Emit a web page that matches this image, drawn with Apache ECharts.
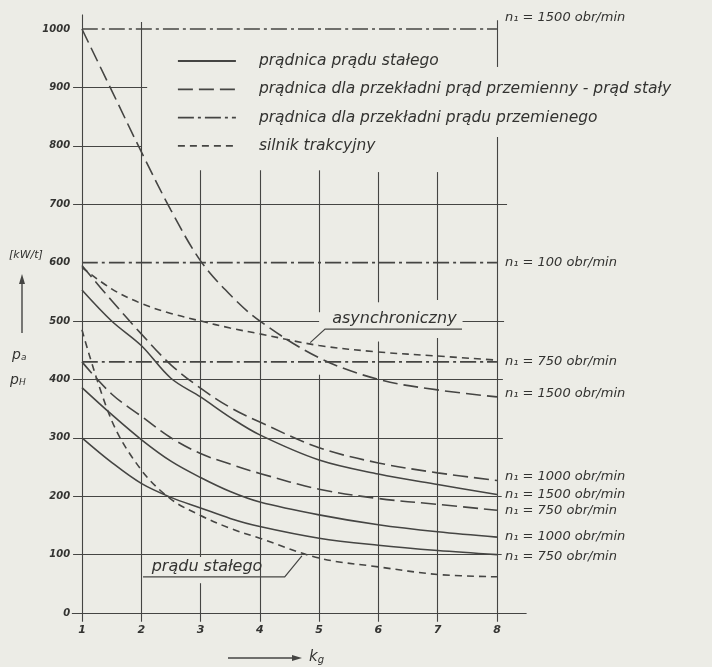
<!DOCTYPE html>
<html>
<head>
<meta charset="utf-8">
<script src="https://cdn.jsdelivr.net/npm/echarts@6/dist/echarts.min.js"></script>
<style>
  html, body { margin: 0; background: #ecece6; }
  #chart { width: 712px; height: 667px; }
</style>
</head>
<body>
<div id="chart"></div>
<script>
// k_g values, shared by every curve
const kValues = [1, 1.5, 2, 2.5, 3, 3.5, 4, 5, 6, 7, 8];

// prądnica prądu stałego (solid)
const dcGen1500 = [553, 500, 458, 402, 370, 335, 305, 262, 238, 220, 203];
const dcGen1000 = [386, 340, 297, 260, 232, 208, 190, 168, 151, 139, 130];
const dcGen750 = [300, 258, 222, 198, 180, 162, 148, 128, 116, 107, 100];

// prądnica dla przekładni prąd przemienny - prąd stały (long dash)
const acdc1500 = [1000, 895, 790, 690, 603, 545, 500, 437, 400, 382, 370];
const acdc1000 = [595, 535, 478, 425, 385, 352, 327, 283, 257, 240, 227];
const acdc750 = [430, 375, 337, 300, 273, 255, 239, 212, 196, 186, 176];

// prądnica dla przekładni prądu przemienego (dash-dot, constant)
const acRange = [1, 8];
const ac1500 = [1000, 1000];
const ac1000 = [600, 600];
const ac750 = [430, 430];

// silnik trakcyjny (short dash)
const motorAsync = [592, 555, 530, 513, 500, 488, 478, 458, 447, 440, 433];
const motorDc = [485, 330, 245, 195, 167, 145, 128, 94, 79, 66, 62];

const yTicks = [0, 100, 200, 300, 400, 500, 600, 700, 800, 900, 1000];
const xTicks = [1, 2, 3, 4, 5, 6, 7, 8];

const L1 = 'prądnica prądu stałego';
const L2 = 'prądnica dla przekładni prąd przemienny - prąd stały';
const L3 = 'prądnica dla przekładni prądu przemienego';
const L4 = 'silnik trakcyjny';

const PAPER = '#ecece6';
const INK = '#454543';
const TEXT = '#333331';
const FONT = 'DejaVu Sans';

const DASH_LONG = [15, 6];
const DASH_SHORT = [7, 5];
const DASH_DOT = [16, 4, 3, 4];

// drawn grid pieces, [k from, k to, value] / [k, value from, value to]
const hLines = [
  [0.85, 2.1, 900], [0.85, 2.0, 800], [0.85, 8.17, 700],
  [0.85, 5.0, 500], [7.42, 8.12, 500],
  [0.85, 8.1, 400], [0.85, 8.1, 300], [0.85, 8.08, 200], [0.85, 8.08, 100],
  [0.83, 8.5, 0]
];
const vLines = [
  [1, -15, 1025], [2, -15, 1012],
  [3, -15, 51], [3, 96, 758], [4, -15, 758],
  [5, -15, 408], [5, 515, 758],
  [6, -15, 465], [6, 532, 755],
  [7, -15, 471], [7, 536, 755],
  [8, -15, 815], [8, 935, 1015]
];

function curve(name, xs, values, dash, label, offset) {
  const s = {
    type: 'line',
    name: name,
    z: 3,
    silent: true,
    smooth: 0.35,
    symbol: 'none',
    color: INK,
    data: xs.map((k, i) => [k, values[i]]),
    lineStyle: { color: INK, width: 1.6, type: dash }
  };
  if (label) {
    s.endLabel = {
      show: true,
      formatter: label,
      distance: 8,
      offset: offset || [0, 0],
      color: TEXT,
      fontFamily: FONT,
      fontStyle: 'italic',
      fontSize: 13
    };
  }
  return s;
}

const gridSeries = {
  type: 'line',
  name: 'siatka',
  z: 1,
  silent: true,
  data: [],
  markLine: {
    silent: true,
    symbol: 'none',
    animation: false,
    label: { show: false },
    lineStyle: { color: INK, width: 1.1, type: 'solid' },
    data: hLines.map(h => [{ coord: [h[0], h[2]] }, { coord: [h[1], h[2]] }])
      .concat(vLines.map(v => [{ coord: [v[0], v[1]] }, { coord: [v[0], v[2]] }]))
  }
};

const chart = echarts.init(document.getElementById('chart'));

chart.setOption({
  backgroundColor: PAPER,
  animation: false,
  textStyle: { fontFamily: FONT },
  grid: { left: 70.1, top: 11.48, width: 456.5, height: 613.2, outerBoundsMode: 'none' },
  xAxis: {
    type: 'value', min: 0.8, max: 8.5,
    axisLine: { show: false }, axisTick: { show: false }, splitLine: { show: false },
    axisLabel: {
      customValues: xTicks, margin: 0, color: TEXT,
      fontStyle: 'italic', fontWeight: 'bold', fontSize: 11, fontFamily: FONT
    }
  },
  yAxis: {
    type: 'value', min: -20, max: 1030,
    axisLine: { show: false }, axisTick: { show: false }, splitLine: { show: false },
    axisLabel: {
      customValues: yTicks, margin: 0, color: TEXT,
      formatter: v => String(v),
      fontStyle: 'italic', fontWeight: 'bold', fontSize: 10, fontFamily: FONT
    }
  },
  legend: {
    data: [L1, L2, L3, L4],
    orient: 'vertical',
    left: 172, top: 48,
    itemWidth: 58, itemHeight: 15, itemGap: 12.3,
    selectedMode: false,
    itemStyle: { opacity: 0, color: 'rgba(0,0,0,0)', borderWidth: 0 },
    lineStyle: { width: 1.8, color: INK },
    textStyle: {
      color: TEXT, fontFamily: FONT, fontStyle: 'italic', fontSize: 15.5,
      padding: [0, 0, 0, 18]
    }
  },
  series: [
    gridSeries,
    curve(L1, kValues, dcGen1500, 'solid', 'n₁ = 1500 obr/min'),
    curve(L1, kValues, dcGen1000, 'solid', 'n₁ = 1000 obr/min'),
    curve(L1, kValues, dcGen750, 'solid', 'n₁ = 750 obr/min', [0, 2]),
    curve(L2, kValues, acdc1500, DASH_LONG, 'n₁ = 1500 obr/min', [0, -3]),
    curve(L2, kValues, acdc1000, DASH_LONG, 'n₁ = 1000 obr/min', [0, -4]),
    curve(L2, kValues, acdc750, DASH_LONG, 'n₁ = 750 obr/min'),
    curve(L3, acRange, ac1500, DASH_DOT, 'n₁ = 1500 obr/min', [0, -11]),
    curve(L3, acRange, ac1000, DASH_DOT, 'n₁ = 100 obr/min'),
    curve(L3, acRange, ac750, DASH_DOT, 'n₁ = 750 obr/min'),
    curve(L4, kValues, motorAsync, DASH_SHORT),
    curve(L4, kValues, motorDc, DASH_SHORT)
  ]
});

// annotations placed in data coordinates
const notes = [
  { text: 'asynchroniczny', at: [6.27, 504], line: [[7.41, 486], [5.10, 486], [4.85, 463]] },
  { text: 'prądu stałego', at: [3.11, 79], line: [[2.03, 62], [4.42, 62], [4.71, 98]] }
];

function px(p) {
  return chart.convertToPixel({ gridIndex: 0 }, p);
}

const graphics = [];
notes.forEach(n => {
  const c = px(n.at);
  graphics.push({
    type: 'text', x: c[0], y: c[1], z: 10,
    style: {
      text: n.text, fill: TEXT, align: 'center', verticalAlign: 'middle',
      font: 'italic 16px "DejaVu Sans"'
    }
  });
  graphics.push({
    type: 'polyline', z: 10,
    shape: { points: n.line.map(px) },
    style: { stroke: INK, lineWidth: 1.2, fill: null }
  });
});

// axis titles
graphics.push(
  { type: 'text', x: 9, y: 255, style: { text: '[kW/t]', fill: TEXT, verticalAlign: 'middle', font: 'italic 11px "DejaVu Sans"' } },
  { type: 'line', shape: { x1: 22, y1: 333, x2: 22, y2: 282 }, style: { stroke: INK, lineWidth: 1.4 } },
  { type: 'polygon', shape: { points: [[22, 274], [19, 284], [25, 284]] }, style: { fill: INK } },
  {
    type: 'text', x: 12, y: 355,
    style: {
      text: '{m|p}{s|a}', verticalAlign: 'middle',
      rich: {
        m: { fill: TEXT, font: 'italic 14px "DejaVu Sans"' },
        s: { fill: TEXT, font: 'italic 9px "DejaVu Sans"', verticalAlign: 'bottom', padding: [6, 0, 0, 0] }
      }
    }
  },
  {
    type: 'text', x: 10, y: 380,
    style: {
      text: '{m|p}{s|H}', verticalAlign: 'middle',
      rich: {
        m: { fill: TEXT, font: 'italic 14px "DejaVu Sans"' },
        s: { fill: TEXT, font: 'italic 9px "DejaVu Sans"', verticalAlign: 'bottom', padding: [6, 0, 0, 0] }
      }
    }
  },
  { type: 'line', shape: { x1: 228, y1: 658, x2: 294, y2: 658 }, style: { stroke: INK, lineWidth: 1.4 } },
  { type: 'polygon', shape: { points: [[302, 658], [292, 655], [292, 661]] }, style: { fill: INK } },
  {
    type: 'text', x: 309, y: 657,
    style: {
      text: '{m|k}{s|g}', verticalAlign: 'middle',
      rich: {
        m: { fill: TEXT, font: 'italic 15px "DejaVu Sans"' },
        s: { fill: TEXT, font: 'italic 10px "DejaVu Sans"', padding: [7, 0, 0, 0] }
      }
    }
  }
);

chart.setOption({ graphic: graphics });
</script>
</body>
</html>
